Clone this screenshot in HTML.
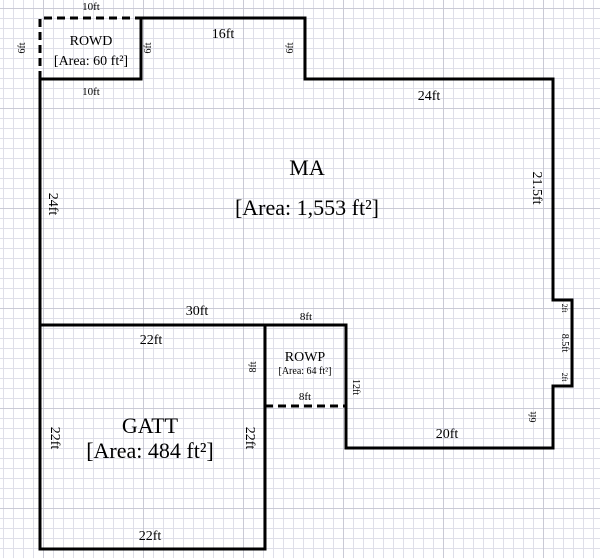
<!DOCTYPE html>
<html><head><style>
html,body{margin:0;padding:0;background:#fff;}
svg{display:block;font-family:"Liberation Serif",serif;}
</style></head><body>
<svg width="600" height="558" viewBox="0 0 600 558" xmlns="http://www.w3.org/2000/svg">
<defs>
<pattern id="g" x="3" y="8" width="10" height="10" patternUnits="userSpaceOnUse">
<path d="M0 0.5H10M0.5 0V10" stroke="#dfdfe9" stroke-width="1" fill="none"/>
</pattern>
<pattern id="G" x="43" y="8" width="100" height="100" patternUnits="userSpaceOnUse">
<path d="M0 0.5H100M0.5 0V100" stroke="#cacad6" stroke-width="1" fill="none"/>
</pattern>
</defs>
<rect width="600" height="558" fill="url(#g)"/>
<rect width="600" height="558" fill="url(#G)"/>
<g stroke="#000" stroke-width="3" fill="none" stroke-linecap="square">
<path d="M141 18H305V79H553V300H572V386H553V448H346V325H40"/>
<path d="M40 79H141V18"/>
<path d="M40 79V549H265V325H346"/>
</g>
<g stroke="#000" stroke-width="3" fill="none" stroke-dasharray="8,5">
<path d="M40 79V18H141"/>
<path d="M265 406H346"/>
</g>
<g fill="#000" text-anchor="middle">
<text x="91" y="10" font-size="11">10ft</text>
<text x="91" y="45" font-size="14">ROWD</text>
<text x="91" y="65" font-size="14">[Area: 60 ft²]</text>
<text x="91" y="95" font-size="11">10ft</text>
<text x="223" y="38" font-size="14">16ft</text>
<text x="429" y="100" font-size="14">24ft</text>
<text x="307" y="175" font-size="22">MA</text>
<text x="307" y="215" font-size="22">[Area: 1,553 ft²]</text>
<text x="197" y="315" font-size="14">30ft</text>
<text x="151" y="344" font-size="14">22ft</text>
<text x="306" y="320" font-size="11">8ft</text>
<text x="305" y="361" font-size="14">ROWP</text>
<text x="305" y="374" font-size="10">[Area: 64 ft²]</text>
<text x="305" y="400" font-size="11">8ft</text>
<text x="447" y="438" font-size="14">20ft</text>
<text x="150" y="433" font-size="22">GATT</text>
<text x="150" y="458" font-size="22">[Area: 484 ft²]</text>
<text x="150" y="540" font-size="14">22ft</text>
<g font-size="14">
<text transform="translate(49,204) rotate(90)">24ft</text>
<text transform="translate(533,188) rotate(90)">21.5ft</text>
<text transform="translate(51,438) rotate(90)">22ft</text>
<text transform="translate(246,438) rotate(90)">22ft</text>
</g>
<g font-size="10">
<text transform="translate(25,48) rotate(-90)">6ft</text>
<text transform="translate(151,48) rotate(-90)">6ft</text>
<text transform="translate(293,48) rotate(-90)">6ft</text>
<text transform="translate(256,367) rotate(-90)">8ft</text>
<text transform="translate(353,387) rotate(90)">12ft</text>
<text transform="translate(536,417) rotate(-90)">6ft</text>
<text transform="translate(562,343) rotate(90)">8.5ft</text>
<text transform="translate(562,308) rotate(90)" font-size="8">2ft</text>
<text transform="translate(562,377) rotate(90)" font-size="8">2ft</text>
</g>
</g>
</svg>
</body></html>
